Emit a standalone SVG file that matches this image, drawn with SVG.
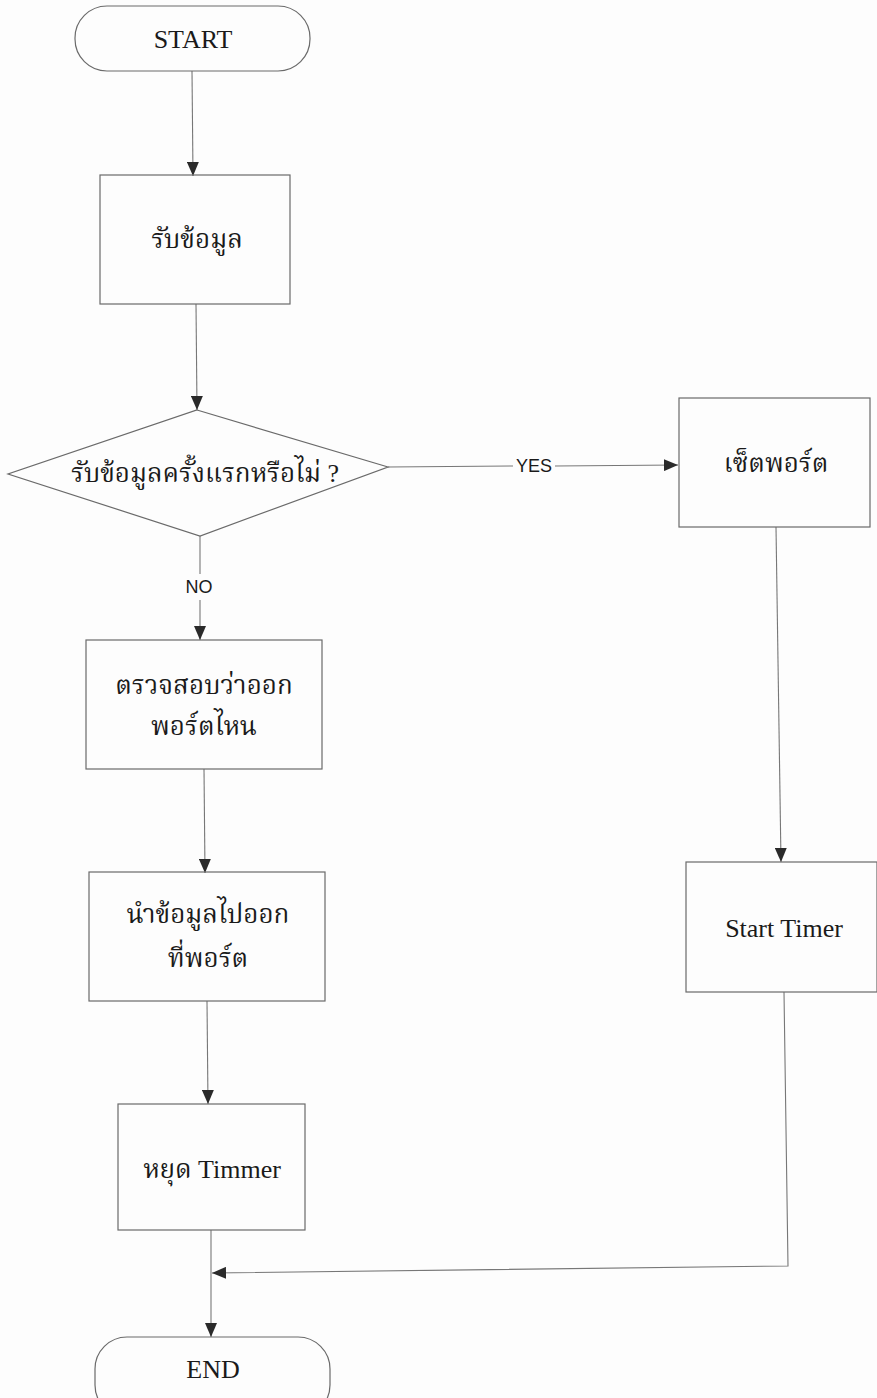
<svg xmlns="http://www.w3.org/2000/svg" width="877" height="1398" viewBox="0 0 877 1398">
<style>
.bg{fill:#fdfdfd}
.shape{fill:none;stroke:#6a6a6a;stroke-width:1.2}
.conn{fill:none;stroke:#777;stroke-width:1.1}
.t{font-family:"Liberation Serif","Noto Serif Thai","Noto Sans Thai",serif;font-size:26px;fill:#1a1a1a;text-anchor:middle;dominant-baseline:middle}
.lbl{font-family:"Liberation Sans",Arial,sans-serif;font-size:18px;fill:#1a1a1a;text-anchor:middle;dominant-baseline:middle}
</style>
<defs>
<marker id="ah" viewBox="0 0 14 12" refX="14" refY="6" markerWidth="14" markerHeight="12" markerUnits="userSpaceOnUse" orient="auto">
<path d="M0,0 L14,6 L0,12 Z" fill="#2a2a2a"/>
</marker>
</defs>
<rect class="bg" x="0" y="0" width="877" height="1398"/>
<g id="connectors">
<line class="conn" x1="192" y1="71" x2="193" y2="176" marker-end="url(#ah)"/>
<line class="conn" x1="196" y1="304" x2="197" y2="410" marker-end="url(#ah)"/>
<polyline class="conn" points="388,467 513,466"/>
<polyline class="conn" points="555,466 678,465" marker-end="url(#ah)"/>
<polyline class="conn" points="200,536 200,574"/>
<polyline class="conn" points="200,600 200,640" marker-end="url(#ah)"/>
<line class="conn" x1="776" y1="527" x2="781" y2="862" marker-end="url(#ah)"/>
<line class="conn" x1="204" y1="769" x2="205" y2="873" marker-end="url(#ah)"/>
<line class="conn" x1="207" y1="1001" x2="208" y2="1104" marker-end="url(#ah)"/>
<polyline class="conn" points="784,992 788,1266 212,1273" marker-end="url(#ah)"/>
<line class="conn" x1="211" y1="1230" x2="211" y2="1337" marker-end="url(#ah)"/>
<text class="lbl" x="534" y="467">YES</text>
<text class="lbl" x="199" y="588">NO</text>
</g>
<g id="start">
<rect class="shape" x="75" y="6" width="235" height="65" rx="32" ry="32"/>
<text class="t" x="193" y="42">START</text>
</g>
<g id="receive">
<rect class="shape" x="100" y="175" width="190" height="129"/>
<text class="t" x="197" y="242">รับข้อมูล</text>
</g>
<g id="decision">
<polygon class="shape" points="197,410 388,467 200,536 8,474"/>
<text class="t" x="205" y="476">รับข้อมูลครั้งแรกหรือไม่ ?</text>
</g>
<g id="setport">
<rect class="shape" x="679" y="398" width="191" height="129"/>
<text class="t" x="776" y="466">เซ็ตพอร์ต</text>
</g>
<g id="starttimer">
<rect class="shape" x="686" y="862" width="191" height="130"/>
<text class="t" x="784" y="931">Start Timer</text>
</g>
<g id="check">
<rect class="shape" x="86" y="640" width="236" height="129"/>
<text class="t" x="204" y="688">ตรวจสอบว่าออก</text>
<text class="t" x="204" y="729">พอร์ตไหน</text>
</g>
<g id="output">
<rect class="shape" x="89" y="872" width="236" height="129"/>
<text class="t" x="208" y="917">นำข้อมูลไปออก</text>
<text class="t" x="208" y="961">ที่พอร์ต</text>
</g>
<g id="stoptimer">
<rect class="shape" x="118" y="1104" width="187" height="126"/>
<text class="t" x="212" y="1172">หยุด Timmer</text>
</g>
<g id="end">
<rect class="shape" x="95" y="1337" width="235" height="80" rx="32" ry="32"/>
<text class="t" x="213" y="1372">END</text>
</g>
</svg>
